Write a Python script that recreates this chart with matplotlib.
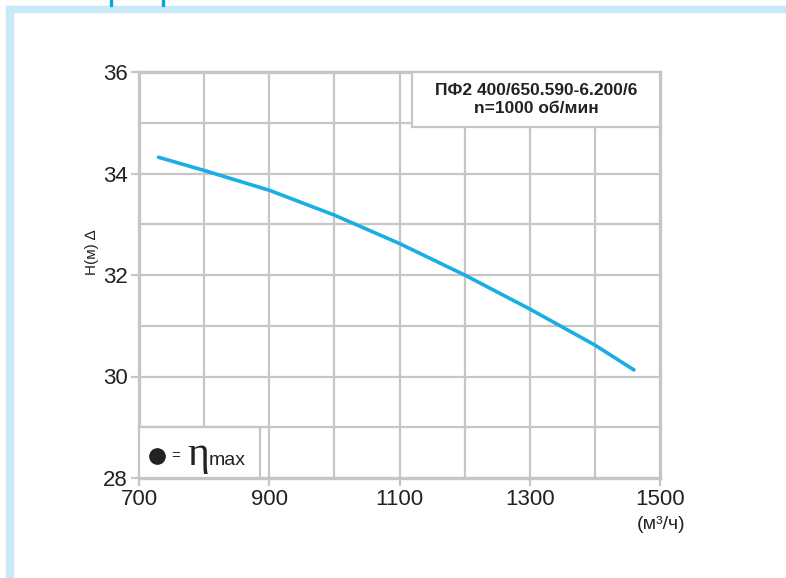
import matplotlib
matplotlib.use("Agg")
import matplotlib.pyplot as plt
from matplotlib.patches import Rectangle

plt.rcParams['font.family'] = ['Liberation Sans', 'DejaVu Sans']

# данные кривой H(Q)
q = [730, 800, 900, 1000, 1100, 1200, 1300, 1400, 1460]
h = [34.32, 34.06, 33.67, 33.18, 32.62, 32.0, 31.33, 30.62, 30.13]

x_ticks = [700, 900, 1100, 1300, 1500]
y_ticks = [28, 30, 32, 34, 36]
title_lines = ["ПФ2 400/650.590-6.200/6", "n=1000 об/мин"]

grid_col = "#c6c6c8"
line_col = "#1aaee6"
txt_col = "#222222"

fig = plt.figure(figsize=(7.86, 5.78), dpi=100)

# декоративная рамка
fig.patches.append(Rectangle((6/786, 1 - 12/578), 1, 6/578, transform=fig.transFigure,
                             color="#c9e9f8", zorder=0))
fig.patches.append(Rectangle((6/786, 0), 7/786, 1 - 6/578, transform=fig.transFigure,
                             color="#c9e9f8", zorder=0))
for xp in [110, 162]:
    fig.patches.append(Rectangle((xp/786, 1 - 6/578), 2/786, 6/578, transform=fig.transFigure,
                                 color="#0aa4e0", zorder=0))

ax = fig.add_axes([139/786, 1 - 478/578, (660 - 139)/786, (478 - 72)/578])
ax.set_xlim(700, 1500)
ax.set_ylim(28, 36)

for v in range(800, 1500, 100):
    ax.axvline(v, color=grid_col, lw=1.6, zorder=1)
for v in range(29, 36):
    ax.axhline(v, color=grid_col, lw=1.6, zorder=1)

for s in ax.spines.values():
    s.set_color(grid_col)
    s.set_linewidth(2.4)

ax.set_xticks(x_ticks)
ax.set_yticks(y_ticks)
ax.tick_params(axis='both', colors=grid_col, length=6, width=1.6, labelsize=16,
               labelcolor=txt_col, pad=2)

ax.plot(q, h, color=line_col, lw=2.6, solid_capstyle='round', zorder=3)

# подпись оси Y
ax.text(-0.09, 0.557, "H(м) \u2206", transform=ax.transAxes, rotation=90,
        ha='center', va='center', fontsize=11, color=txt_col)
# подпись оси X
ax.text(1502, 27.25, "(м³/ч)", ha='center', va='top', fontsize=14, color=txt_col)

# табличка с названием
bx0 = (412 - 139) / (660 - 139)
by0 = (478 - 127) / (478 - 72)
ax.add_patch(Rectangle((bx0, by0), 1 - bx0, 1 - by0, transform=ax.transAxes,
                       facecolor="white", edgecolor=grid_col, lw=1.6, zorder=4))
ax.text((bx0 + 1) / 2, (by0 + 1) / 2, "\n".join(title_lines), transform=ax.transAxes,
        ha='center', va='center', fontsize=12.5, fontweight='bold', linespacing=1.2,
        color=txt_col, zorder=5)

# легенда eta max
lw_ = (260 - 139) / (660 - 139)
lh_ = (478 - 427) / (478 - 72)
ax.add_patch(Rectangle((0, 0), lw_, lh_, transform=ax.transAxes,
                       facecolor="white", edgecolor=grid_col, lw=1.6, zorder=4))
ax.plot([0.035], [0.054], 'o', transform=ax.transAxes, color=txt_col, ms=11, zorder=5)
ax.text(0.062, 0.054, "=", transform=ax.transAxes, ha='left', va='center',
        fontsize=11, color=txt_col, zorder=5)
ax.text(0.092, 0.058, "\u03b7", transform=ax.transAxes, ha='left', va='center',
        fontsize=30, family=['Liberation Serif', 'DejaVu Serif'], color=txt_col, zorder=5)
ax.text(0.134, 0.032, "max", transform=ax.transAxes, ha='left', va='baseline',
        fontsize=14, color=txt_col, zorder=5)

fig.savefig("out.png", dpi=100)
